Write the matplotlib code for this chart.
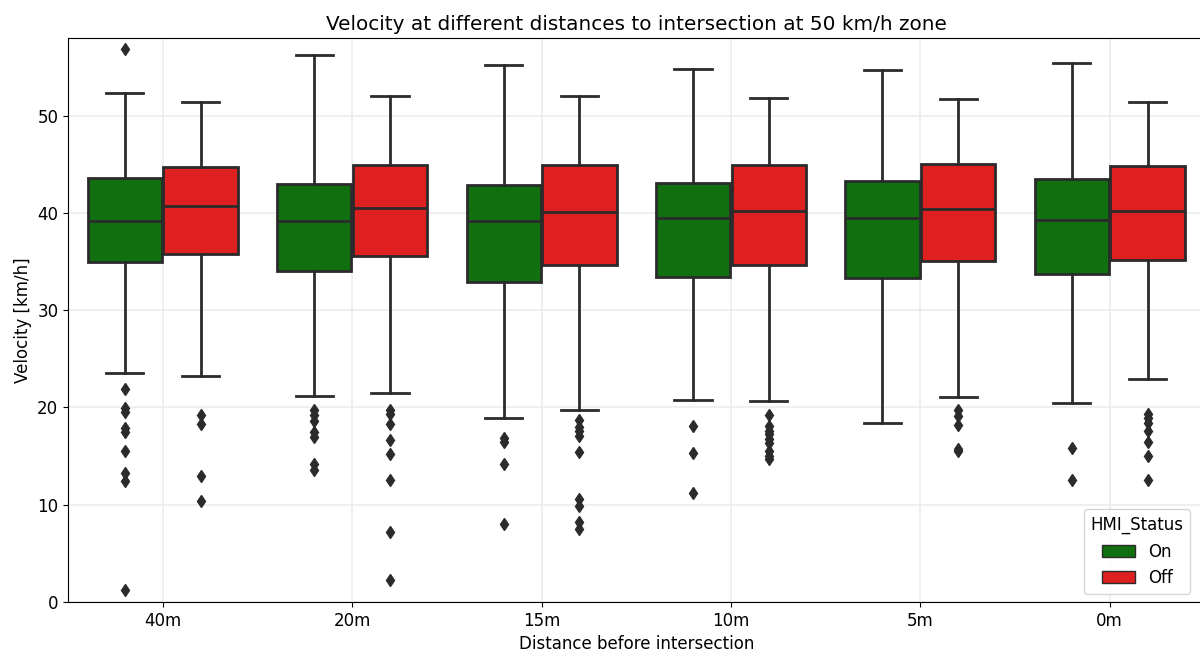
import matplotlib
matplotlib.use("Agg")
import matplotlib.pyplot as plt
import matplotlib.patches as mpatches

# categories and hue levels
distances = ["40m", "20m", "15m", "10m", "5m", "0m"]
hmi_levels = ["On", "Off"]
hmi_colors = ["#107010", "#df2020"]

# box statistics, one value per distance
on_whislo = [23.5, 21.2, 18.9, 20.8, 18.4, 20.5]
on_q1 = [35.0, 34.0, 32.9, 33.45, 33.3, 33.7]
on_med = [39.2, 39.2, 39.15, 39.5, 39.5, 39.3]
on_q3 = [43.6, 43.0, 42.85, 43.1, 43.3, 43.5]
on_whishi = [52.3, 56.2, 55.25, 54.8, 54.7, 55.4]
on_fliers = [
    [56.9, 21.9, 19.9, 19.5, 17.9, 17.5, 15.5, 13.3, 12.4, 1.25],
    [19.7, 19.2, 18.6, 17.5, 17.0, 14.2, 13.6],
    [16.9, 16.5, 14.2, 8.0],
    [18.1, 15.3, 11.2],
    [],
    [15.8, 12.55],
]

off_whislo = [23.2, 21.5, 19.7, 20.7, 21.1, 22.9]
off_q1 = [35.8, 35.6, 34.7, 34.7, 35.1, 35.2]
off_med = [40.7, 40.5, 40.1, 40.2, 40.4, 40.2]
off_q3 = [44.7, 44.9, 44.9, 44.9, 45.0, 44.8]
off_whishi = [51.4, 52.0, 52.0, 51.8, 51.7, 51.4]
off_fliers = [
    [19.25, 18.3, 13.0, 10.35],
    [19.7, 19.3, 18.3, 16.7, 15.2, 12.5, 7.15, 2.3],
    [18.7, 18.0, 17.6, 17.1, 15.4, 10.6, 9.9, 8.2, 7.5],
    [19.2, 18.1, 17.6, 17.3, 16.8, 16.3, 15.5, 15.0, 14.7],
    [19.7, 19.1, 18.2, 15.7, 15.5],
    [19.3, 18.95, 18.4, 17.6, 16.5, 15.0, 12.55],
]


def make_stats(whislo, q1, med, q3, whishi, fliers):
    return [dict(whislo=a, q1=b, med=c, q3=d, whishi=e, fliers=f)
            for a, b, c, d, e, f in zip(whislo, q1, med, q3, whishi, fliers)]


stats = [
    make_stats(on_whislo, on_q1, on_med, on_q3, on_whishi, on_fliers),
    make_stats(off_whislo, off_q1, off_med, off_q3, off_whishi, off_fliers),
]

plt.rcParams["font.size"] = 12

fig = plt.figure(figsize=(12, 6.55), dpi=100)
# the right edge of the axes runs just past the figure, as in the original crop
ax = fig.add_axes([0.0567, 0.081, 0.947, 0.861])

line_color = "#2b2b2b"
box_w = 0.4 * 0.98
for k, level_stats in enumerate(stats):
    offset = -0.2 if k == 0 else 0.2
    positions = [i + offset for i in range(len(distances))]
    ax.bxp(level_stats, positions=positions, widths=box_w,
           patch_artist=True, manage_ticks=False,
           boxprops=dict(facecolor=hmi_colors[k], edgecolor=line_color, linewidth=2),
           medianprops=dict(color=line_color, linewidth=2),
           whiskerprops=dict(color=line_color, linewidth=2),
           capprops=dict(color=line_color, linewidth=2),
           flierprops=dict(marker="d", markerfacecolor=line_color,
                           markeredgecolor=line_color, markersize=6))

ax.set_xticks(range(len(distances)))
ax.set_xticklabels(distances)
ax.set_xlim(-0.5, len(distances) - 0.5)
ax.set_ylim(0, 58)
ax.set_axisbelow(True)
ax.grid(color="#ececec", linewidth=1.2)

ax.set_title("Velocity at different distances to intersection at 50 km/h zone")
ax.set_xlabel("Distance before intersection")
ax.set_ylabel("Velocity [km/h]")

handles = [mpatches.Patch(facecolor=c, edgecolor=line_color, label=l)
           for c, l in zip(hmi_colors, hmi_levels)]
ax.legend(handles=handles, title="HMI_Status", loc="lower right",
          bbox_to_anchor=(0.995, 0.0))

fig.savefig("out.png")
